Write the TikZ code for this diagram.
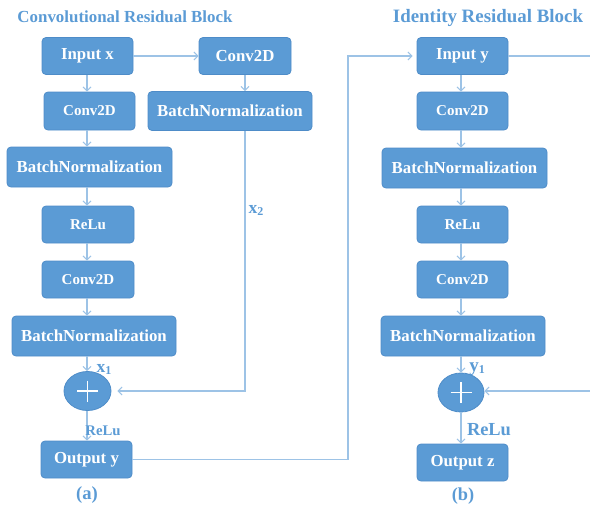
\documentclass[tikz,border=0pt]{standalone}
\usepackage{fontspec}
\setmainfont{Liberation Serif}
\usetikzlibrary{arrows.meta,shapes.geometric,calc}
\definecolor{boxfill}{HTML}{5B9BD5}
\definecolor{boxline}{HTML}{4E8CC8}
\definecolor{linec}{HTML}{9DC3E6}
\definecolor{labc}{HTML}{5B9BD5}
\tikzset{
  blk/.style={draw=boxline, line width=0.8pt, fill=boxfill, rounded corners=4pt,
    text=white, font=\fontsize{16.8}{18}\selectfont\bfseries, inner sep=0pt,
    minimum width=#1, minimum height=37pt},
  blk/.default=91pt,
  smalltxt/.style={font=\fontsize{15}{17}\selectfont\bfseries},
  addop/.style={ellipse, draw=boxline, line width=0.8pt, fill=boxfill,
    minimum width=47pt, minimum height=39pt, inner sep=0pt},
  conn/.style={draw=linec, line width=1.2pt},
  arr/.style={conn, -{Straight Barb[length=4pt,width=8pt,line width=1pt]}},
  lab/.style={text=labc, font=\bfseries, inner sep=0pt},
}
\newcommand{\mysub}[1]{\raisebox{-0.25ex}{\fontsize{12}{12}\selectfont #1}}
\begin{document}
\begin{tikzpicture}[x=1pt,y=-1pt]
\useasboundingbox (0,0) rectangle (590,509);
% titles
\node[lab, font=\fontsize{16.9}{18}\selectfont\bfseries] (t1) at (125,17) {Convolutional Residual Block};
\node[lab, font=\fontsize{18.9}{20}\selectfont\bfseries] (t2) at (488,18) {Identity Residual Block};
% left column
\node[blk] (inx) at (87.5,56) {Input x};
\node[blk=92pt] (c2r) at (245,56) {Conv2D};
\node[blk=164pt, minimum height=39pt] (bnr) at (230,111) {BatchNormalization};
\node[blk, smalltxt, minimum height=38pt] (c1) at (89.5,111) {Conv2D};
\node[blk=165pt, minimum height=40pt] (bn1) at (89.5,167) {BatchNormalization};
\node[blk=92pt, smalltxt] (relu1) at (88,224.5) {ReLu};
\node[blk=92pt, smalltxt] (c3) at (88,279.5) {Conv2D};
\node[blk=164pt, minimum height=40pt] (bn2) at (94,336) {BatchNormalization};
\node[addop] (plus1) at (87.5,391) {};
\node[blk] (outy) at (86.5,459.5) {Output y};
\draw[white, line width=1.3pt] ($(plus1.center)+(-10.5,0)$) -- ($(plus1.center)+(10.5,0)$)
  ($(plus1.center)+(0,-10.5)$) -- ($(plus1.center)+(0,10.5)$);
% right column
\node[blk] (iny) at (462.5,56) {Input y};
\node[blk, smalltxt, minimum height=38pt] (c4) at (462.5,111) {Conv2D};
\node[blk=165pt, minimum height=40pt] (bn3) at (464.5,168) {BatchNormalization};
\node[blk, smalltxt] (relu2) at (462.5,224.5) {ReLu};
\node[blk, smalltxt] (c5) at (462.5,279.5) {Conv2D};
\node[blk=164pt, minimum height=40pt] (bn4) at (463,336) {BatchNormalization};
\node[addop, minimum width=46pt] (plus2) at (461,392.5) {};
\node[blk] (outz) at (462.5,462.5) {Output z};
\draw[white, line width=1.3pt] ($(plus2.center)+(-10.5,0)$) -- ($(plus2.center)+(10.5,0)$)
  ($(plus2.center)+(0,-10.5)$) -- ($(plus2.center)+(0,10.5)$);
% left connectors
\draw[arr] (inx.south -| 87,0) -- (c1.north -| 87,0);
\draw[arr] (c1.south -| 87,0) -- (bn1.north -| 87,0);
\draw[arr] (bn1.south -| 87,0) -- (relu1.north -| 87,0);
\draw[arr] (relu1.south -| 87,0) -- (c3.north -| 87,0);
\draw[arr] (c3.south -| 87,0) -- (bn2.north -| 87,0);
\draw[arr] (bn2.south -| 87,0) -- (plus1.north -| 87,0);
\draw[arr] (plus1.south -| 87,0) -- (outy.north -| 87,0);
\draw[arr] (inx.east) -- (c2r.west);
\draw[arr] (c2r.south) -- (bnr.north -| c2r);
\draw[arr, shorten >=6pt] (bnr.south -| c2r) -- (c2r |- plus1) -- (plus1.east);
\draw[arr, shorten >=4pt] (outy.east) -- (348,459.5) |- (iny.west);
% right connectors
\coordinate (re1) at (590,56);
\coordinate (re2) at (590,391);
\draw[conn] (iny.east) -- (re1);
\draw[arr] (re2) -- (plus2.east |- re2);
\draw[arr] (iny.south -| 461,0) -- (c4.north -| 461,0);
\draw[arr] (c4.south -| 461,0) -- (bn3.north -| 461,0);
\draw[arr] (bn3.south -| 461,0) -- (relu2.north -| 461,0);
\draw[arr] (relu2.south -| 461,0) -- (c5.north -| 461,0);
\draw[arr] (c5.south -| 461,0) -- (bn4.north -| 461,0);
\draw[arr] (bn4.south -| 461,0) -- (plus2.north -| 461,0);
\draw[arr] (plus2.south -| 461,0) -- (outz.north -| 461,0);
% labels
\node[lab, font=\fontsize{17.5}{18}\selectfont\bfseries] (x2) at (256,210) {x\mysub{2}};
\node[lab, font=\fontsize{17.5}{18}\selectfont\bfseries] (x1) at (104,369) {x\mysub{1}};
\node[lab, font=\fontsize{14.7}{16}\selectfont\bfseries] (r1) at (103,431) {ReLu};
\node[lab, font=\fontsize{19}{20}\selectfont\bfseries] (y1) at (477,369) {y\mysub{1}};
\node[lab, font=\fontsize{18.4}{20}\selectfont\bfseries] (r2) at (489,430) {ReLu};
\node[lab, font=\fontsize{18.6}{20}\selectfont\bfseries] (la) at (87,495) {(a)};
\node[lab, font=\fontsize{18.3}{20}\selectfont\bfseries] (lb) at (463,496) {(b)};
\end{tikzpicture}
\end{document}
